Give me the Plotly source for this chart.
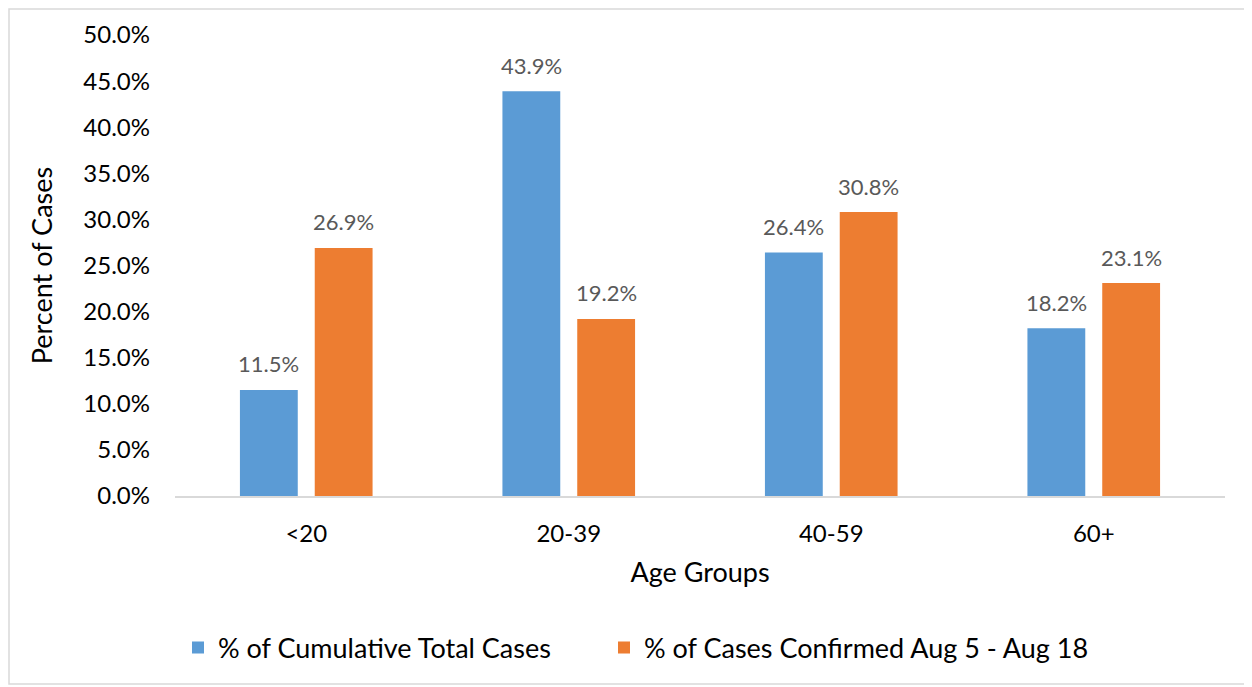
import plotly.graph_objects as go

categories = ["<20", "20-39", "40-59", "60+"]
cumulative = [11.5, 43.9, 26.4, 18.2]
recent = [26.9, 19.2, 30.8, 23.1]
series_names = ["% of Cumulative Total Cases", "% of Cases Confirmed Aug 5 - Aug 18"]
tick_vals = [0, 5, 10, 15, 20, 25, 30, 35, 40, 45, 50]
tick_text = [f"{v:.1f}%" for v in tick_vals]

FONT = "Lato, Carlito, Calibri, sans-serif"
BLUE, ORANGE = "#5B9BD5", "#ED7D31"

fig = go.Figure()
fig.add_trace(go.Bar(x=categories, y=cumulative, name=series_names[0], legend="legend",
                     marker=dict(color=BLUE, line=dict(width=0))))
fig.add_trace(go.Bar(x=categories, y=recent, name=series_names[1], legend="legend2",
                     marker=dict(color=ORANGE, line=dict(width=0))))

# page offset of the figure inside the browser (body margin)
OFF = 8
W, H = 1252, 687
L, R, T, B = 175, 27, 35, 191   # in reference page pixels
pw, ph = W - L - R, H - T - B

def px_x(p):
    return (p - L) / pw

def px_y(p):
    return (H - B - p) / ph

slot = 37.5
annotations = []
for series, sign in ((cumulative, -1), (recent, 1)):
    for c, v in zip(categories, series):
        annotations.append(dict(
            x=c, y=v, xref="x", yref="y", text=f"{v:.1f}%", showarrow=False,
            xshift=sign * slot, yshift=26, yanchor="middle", xanchor="center",
            font=dict(family=FONT, size=22, color="#595959")))

legend_font = dict(family=FONT, size=27, color="#000000")

fig.update_layout(
    width=W - OFF, height=H - OFF,
    margin=dict(l=L - OFF, r=R, t=T - OFF, b=B, pad=0),
    paper_bgcolor="white", plot_bgcolor="white",
    barmode="group", bargap=0.43, bargroupgap=0.227,
    font=dict(family=FONT, color="#000000"),
    showlegend=True,
    legend=dict(orientation="h", x=px_x(178), xanchor="left", y=px_y(648), yanchor="middle",
                font=legend_font, itemwidth=30),
    legend2=dict(orientation="h", x=px_x(604), xanchor="left", y=px_y(648), yanchor="middle",
                 font=legend_font, itemwidth=30),
    xaxis=dict(
        showline=True, linecolor="#D9D9D9", linewidth=2, showgrid=False, ticks="",
        tickfont=dict(family=FONT, size=24, color="#000000"), ticklabelstandoff=15,
        title=dict(text="Age Groups", font=dict(family=FONT, size=27, color="#000000"), standoff=17),
    ),
    yaxis=dict(
        range=[0, 50], tickvals=tick_vals, ticktext=tick_text,
        showline=False, showgrid=False, zeroline=False, ticks="",
        tickfont=dict(family=FONT, size=24, color="#000000"), ticklabelstandoff=24,
        title=dict(text="Percent of Cases", font=dict(family=FONT, size=27, color="#000000"), standoff=22),
    ),
    annotations=annotations,
    shapes=[dict(type="rect", xref="paper", yref="paper",
                 x0=px_x(9), x1=px_x(1260), y0=px_y(684), y1=px_y(9),
                 line=dict(color="#D9D9D9", width=1.5), fillcolor="rgba(0,0,0,0)", layer="below")],
)

fig.write_html("out.html")
